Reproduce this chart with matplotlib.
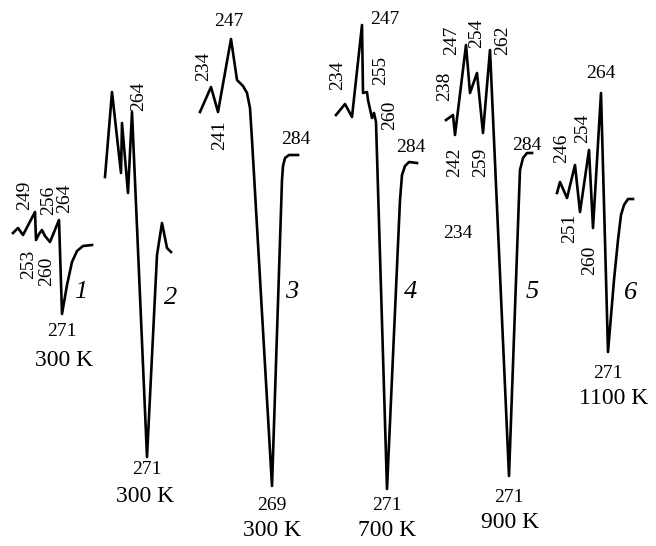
import matplotlib
matplotlib.use("Agg")
import matplotlib.pyplot as plt

# curve traces (pixel space of the original figure)
c1_x = [13, 18, 23, 35, 36, 39, 42, 45, 50, 59, 62, 67, 72, 77, 83, 92]
c1_y = [233, 228, 235, 212, 240, 234, 230, 236, 242, 220, 314, 285, 262, 251, 246, 245]

c2_x = [105, 112, 121, 122, 128, 132, 147, 157, 162, 167, 171]
c2_y = [177, 92, 173, 123, 193, 112, 457, 255, 223, 248, 252]

c3_x = [200, 211, 218, 231, 237, 243, 247, 250, 252, 272, 282, 283, 285, 289, 298]
c3_y = [112, 87, 112, 39, 80, 86, 93, 108, 140, 486, 180, 166, 158, 155, 155]

c4_x = [336, 345, 352, 362, 363, 367, 368, 372, 374, 376, 387, 400, 402, 405, 409, 417]
c4_y = [115, 104, 117, 25, 93, 92, 100, 118, 113, 122, 489, 200, 175, 166, 162, 163]

c5_x = [446, 453, 455, 466, 470, 477, 483, 490, 509, 519, 520, 523, 527, 532]
c5_y = [120, 115, 135, 45, 93, 73, 133, 50, 476, 197, 170, 158, 153, 153]

c6_x = [557, 560, 567, 575, 580, 589, 593, 601, 608, 614, 618, 621, 624, 628, 633]
c6_y = [193, 182, 198, 165, 212, 150, 228, 93, 352, 280, 240, 215, 205, 199, 199]

curves_x = [c1_x, c2_x, c3_x, c4_x, c5_x, c6_x]
curves_y = [c1_y, c2_y, c3_y, c4_y, c5_y, c6_y]

# peak labels
upright_text = ["271", "271", "247", "284", "269", "247", "284", "271",
                "284", "234", "271", "264", "271"]
upright_pos = [(62, 332), (147, 470), (229, 22), (296, 140), (272, 505),
               (385, 20), (411, 148), (387, 505), (527, 145), (458, 234),
               (509, 497), (601, 74), (608, 373)]

rotated_text = ["249", "256", "264", "253", "260", "264", "234", "241",
                "234", "255", "260", "238", "247", "254", "262", "242",
                "259", "246", "254", "251", "260"]
rotated_pos = [(25, 195), (49, 200), (65, 198), (29, 264), (47, 271),
               (139, 96), (204, 66), (220, 135), (338, 75), (381, 70),
               (390, 115), (445, 86), (452, 40), (477, 33), (503, 40),
               (455, 162), (481, 162), (562, 148), (583, 128), (570, 228),
               (590, 260)]

curve_ids = ["1", "2", "3", "4", "5", "6"]
id_pos = [(81, 292), (171, 298), (292, 292), (411, 292), (532, 292), (631, 293)]

temps = ["300 K", "300 K", "300 K", "700 K", "900 K", "1100 K"]
temp_pos = [(64, 360), (145, 497), (272, 530), (387, 530), (510, 522), (614, 398)]

fig = plt.figure(figsize=(6.56, 5.46), dpi=100)
ax = fig.add_axes([0, 0, 1, 1])
ax.set_xlim(0, 656)
ax.set_ylim(546, 0)
ax.axis("off")

serif = ["Liberation Serif", "DejaVu Serif"]

for xs, ys in zip(curves_x, curves_y):
    ax.plot(xs, ys, color="black", linewidth=1.9, solid_joinstyle="round")

for t, (x, y) in zip(upright_text, upright_pos):
    ax.text(x, y, t, family=serif, fontsize=14, ha="center", va="center")

for t, (x, y) in zip(rotated_text, rotated_pos):
    ax.text(x, y, t, family=serif, fontsize=14, ha="center", va="center",
            rotation=90)

for t, (x, y) in zip(curve_ids, id_pos):
    ax.text(x, y, t, family=serif, fontsize=19, style="italic",
            ha="center", va="center")

for t, (x, y) in zip(temps, temp_pos):
    ax.text(x, y, t, family=serif, fontsize=17, ha="center", va="center")

fig.savefig("out.png", dpi=100)
